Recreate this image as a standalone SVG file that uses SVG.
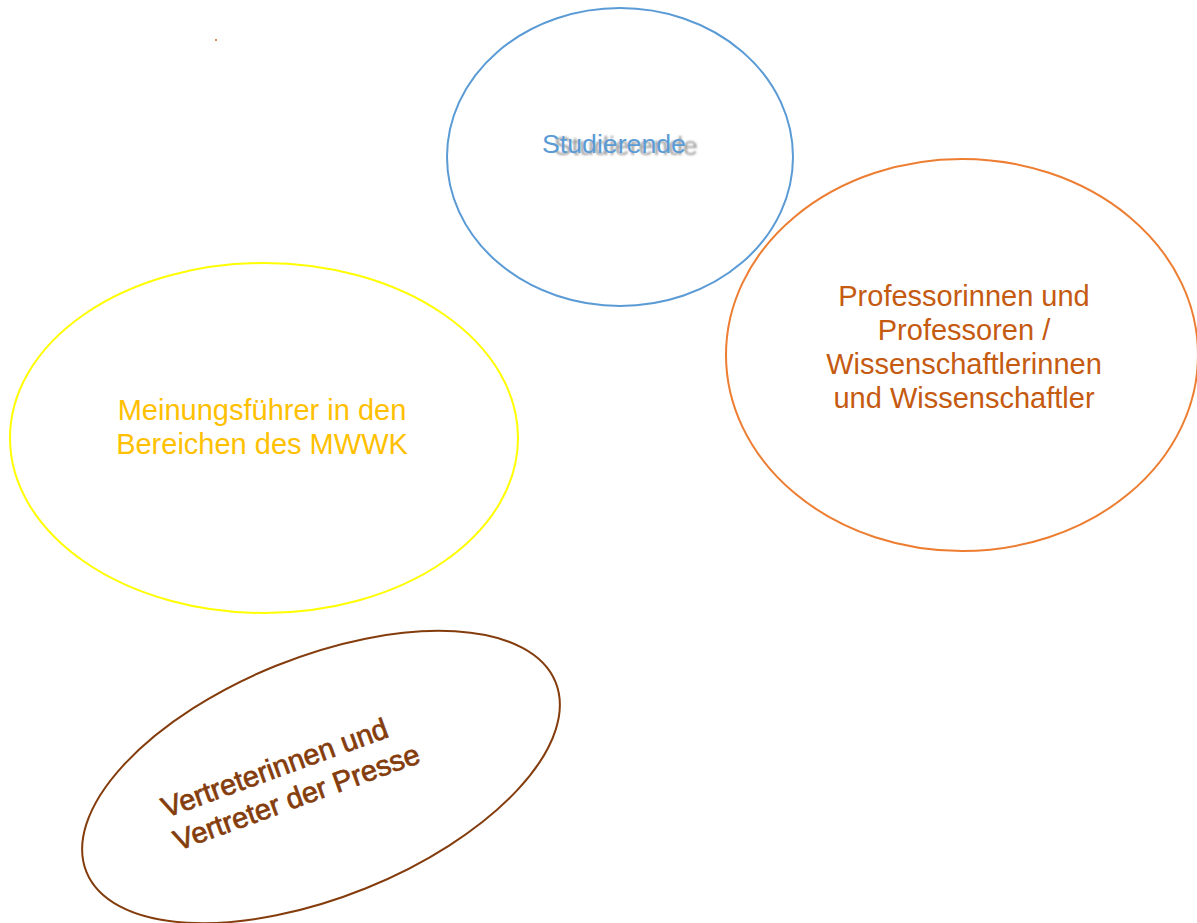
<svg xmlns="http://www.w3.org/2000/svg" width="1197" height="923" viewBox="0 0 1197 923">
  <defs>
    <filter id="soft" x="-10%" y="-50%" width="120%" height="200%">
      <feGaussianBlur stdDeviation="1.2"/>
    </filter>
  </defs>
  <style>
    .ring { fill: none; stroke-width: 2; }
    .lbl { font-family: "Liberation Sans", Arial, sans-serif; font-size: 29px; text-anchor: middle; }
  </style>
  <rect x="0" y="0" width="1197" height="923" fill="#ffffff"/>
  <rect x="215" y="39" width="2" height="2" fill="#e0826a"/>

  <g id="studierende">
    <ellipse class="ring" cx="620" cy="157" rx="173" ry="149" stroke="#5b9bd5"/>
    <text x="626" y="155" font-family="Liberation Sans, Arial, sans-serif" font-size="26.7" text-anchor="middle" fill="#9a9a9a" filter="url(#soft)">Studierende</text>
    <text x="614" y="153" font-family="Liberation Sans, Arial, sans-serif" font-size="26.7" text-anchor="middle" fill="#5b9bd5">Studierende</text>
  </g>

  <g id="professoren">
    <ellipse class="ring" cx="962" cy="355" rx="236" ry="196" stroke="#ed7d31"/>
    <text class="lbl" fill="#c55a11"><tspan x="964" y="306">Professorinnen und</tspan><tspan x="964" y="340">Professoren /</tspan><tspan x="964" y="374">Wissenschaftlerinnen</tspan><tspan x="964" y="408">und Wissenschaftler</tspan></text>
  </g>

  <g id="meinungsfuehrer">
    <ellipse class="ring" cx="264" cy="438" rx="254" ry="175" stroke="#ffff00"/>
    <text class="lbl" fill="#ffc000"><tspan x="262" y="420">Meinungsführer in den</tspan><tspan x="262" y="454">Bereichen des MWWK</tspan></text>
  </g>

  <g id="presse">
    <ellipse class="ring" cx="321" cy="777" rx="253" ry="120" stroke="#843c0c" transform="rotate(-22 321 777)"/>
    <text font-family="Liberation Sans, Arial, sans-serif" font-size="29" fill="#843c0c" stroke="#843c0c" stroke-width="0.7" transform="translate(166 818) rotate(-20)"><tspan x="0" y="0">Vertreterinnen und</tspan><tspan x="0" y="35">Vertreter der Presse</tspan></text>
  </g>

  <g id="connectors"></g>
</svg>
